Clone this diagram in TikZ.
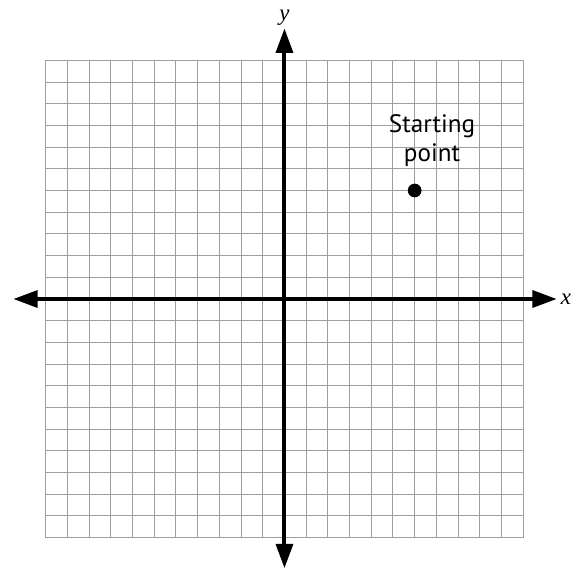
\documentclass[tikz,border=0pt]{standalone}
\usepackage{fontspec}
\setmainfont{Liberation Serif}
\newfontfamily\labelfont{PT Sans}
\usetikzlibrary {positioning,arrows.meta}

\tikzset{
  gridline/.style={draw=gray!75, line width=0.65pt},
  axis/.style={line width=2.6pt, {Triangle[length=16pt,width=11pt]}-{Triangle[length=16pt,width=11pt]}},
  axislabel/.style={font=\fontsize{15}{15}\selectfont\itshape, inner sep=0pt},
  startdot/.style={circle, fill=black, inner sep=0pt, minimum size=9pt}
}

\begin{document}
\begin{tikzpicture}[x=0.5cm, y=0.5cm]
\useasboundingbox (-13.11,-12.44) rectangle (13.62,13.78);

\draw[gridline, step=0.5cm] (-11,-11) grid (11,11);

\coordinate (L) at (-12.5,0);

\coordinate (R) at (12.55,0);

\coordinate (T) at (0,12.47);

\coordinate (B) at (0,-12.41);

\draw[axis] (L) -- (R);
\draw[axis] (B) -- (T);

\node[axislabel] (X) at (12.97,0) {x};

\node[axislabel] (Y) at (0,12.95) {y};

\node[startdot] (S) at (6,5) {};

\node[font=\labelfont\fontsize{16.5}{19}\selectfont, align=center] (SL) at (6.8,7.3) {Starting\\point};
\end{tikzpicture}
\end{document}
